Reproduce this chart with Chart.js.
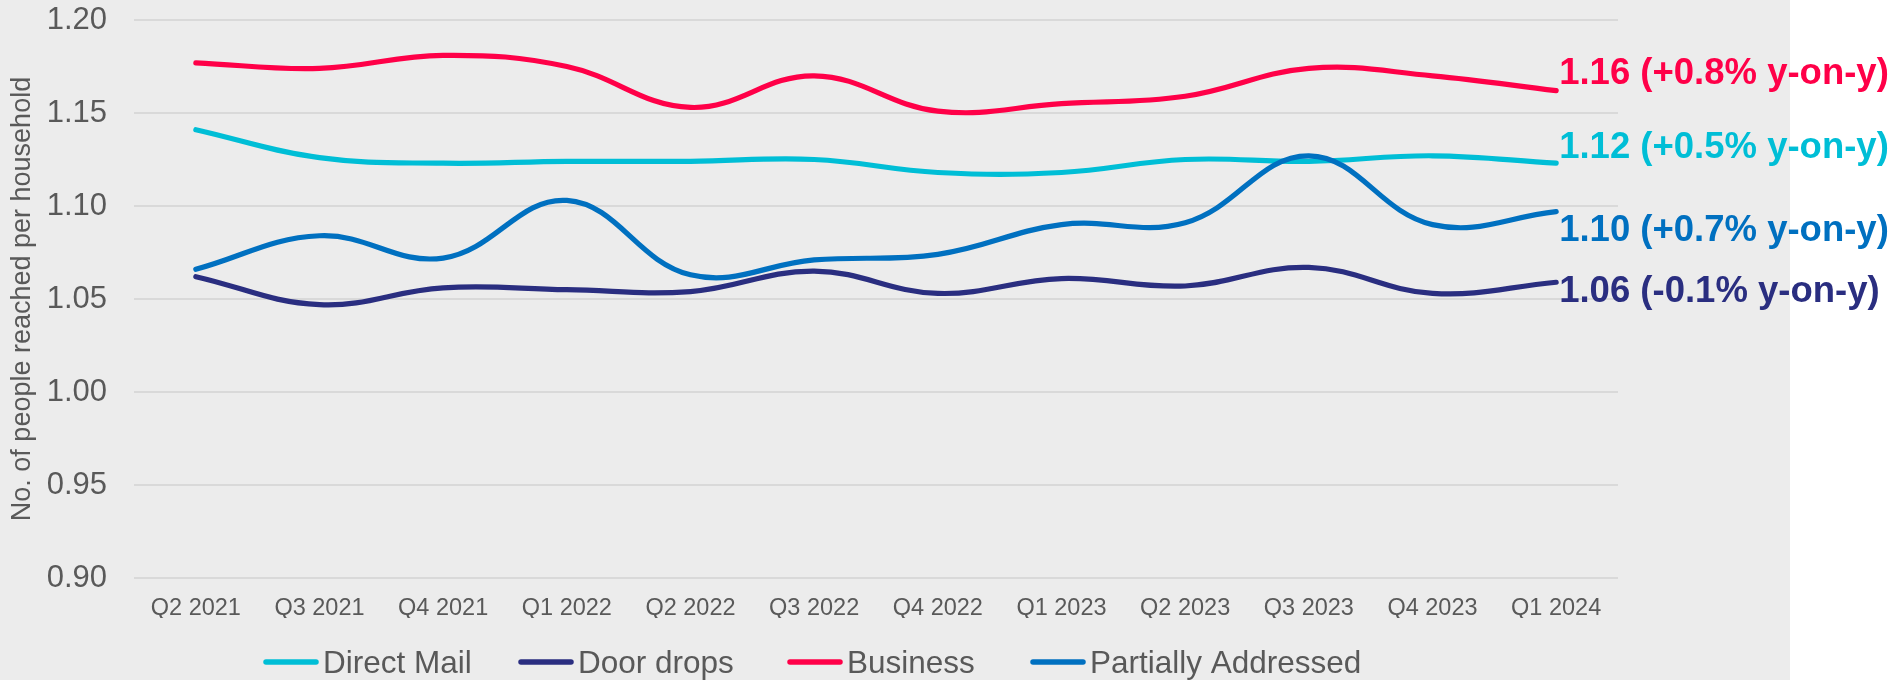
<!DOCTYPE html>
<html>
<head>
<meta charset="utf-8">
<title>People reached per household</title>
<script src="https://cdn.jsdelivr.net/npm/chart.js@4.4.1/dist/chart.umd.min.js"></script>
<style>
  html, body { margin: 0; padding: 0; background: #ffffff; }
  canvas { display: block; }
</style>
</head>
<body>
<canvas id="reachChart" width="1893" height="680"></canvas>
<script>
// Quarterly average number of people reached per household, by mail type
const quarters = ['Q2 2021', 'Q3 2021', 'Q4 2021', 'Q1 2022', 'Q2 2022', 'Q3 2022',
                  'Q4 2022', 'Q1 2023', 'Q2 2023', 'Q3 2023', 'Q4 2023', 'Q1 2024'];

const seriesNames = ['Direct Mail', 'Door drops', 'Business', 'Partially Addressed'];

const directMail = [1.141, 1.126, 1.123, 1.124, 1.124, 1.125, 1.118, 1.118, 1.125, 1.124, 1.127, 1.123];
const doorDrops = [1.062, 1.047, 1.056, 1.055, 1.054, 1.065, 1.053, 1.061, 1.057, 1.067, 1.053, 1.059];
const business = [1.177, 1.174, 1.181, 1.175, 1.153, 1.170, 1.151, 1.155, 1.159, 1.174, 1.170, 1.162];
const partiallyAddressed = [1.066, 1.084, 1.072, 1.103, 1.063, 1.071, 1.074, 1.090, 1.091, 1.127, 1.090, 1.097];

// year-on-year change shown next to the latest value
const yoyChange = ['+0.5%', '-0.1%', '+0.8%', '+0.7%'];

const yTicks = { min: 0.90, max: 1.20, step: 0.05 };

// styling
const colours = ['#00bed6', '#2a2e80', '#ff0048', '#0070c0'];
const drawOrder = [4, 3, 2, 1];           // partially addressed sits on top
const endLabelShift = [-5, 20, -7, 29];    // baseline offset from the last point
const legendX = [263, 518, 787, 1030];
const FONT = '"Liberation Sans", Arial, Helvetica, sans-serif';
const GREY_TEXT = '#595959';

// grey panel behind the chart
const panelBackground = {
  id: 'panelBackground',
  beforeDraw(chart) {
    const c = chart.ctx;
    c.save();
    c.fillStyle = '#ececec';
    c.fillRect(0, 0, 1790, chart.height);
    c.restore();
  }
};

// "1.16 (+0.8% y-on-y)" style labels at the end of each line
const endLabels = {
  id: 'endLabels',
  afterDatasetsDraw(chart) {
    const c = chart.ctx;
    c.save();
    c.font = 'bold 36.5px ' + FONT;
    c.textAlign = 'left';
    c.textBaseline = 'alphabetic';
    chart.data.datasets.forEach((ds, i) => {
      const pts = chart.getDatasetMeta(i).data;
      const last = pts[pts.length - 1];
      const value = ds.data[ds.data.length - 1];
      c.fillStyle = colours[i];
      c.fillText(value.toFixed(2) + ' (' + yoyChange[i] + ' y-on-y)', last.x + 3, last.y + endLabelShift[i]);
    });
    c.restore();
  }
};

// line-style legend along the bottom
const lineLegend = {
  id: 'lineLegend',
  afterDraw(chart) {
    const c = chart.ctx;
    const y = 662;
    c.save();
    c.font = '31.5px ' + FONT;
    c.textBaseline = 'alphabetic';
    c.lineCap = 'round';
    c.lineWidth = 5.5;
    seriesNames.forEach((name, i) => {
      const x = legendX[i];
      c.strokeStyle = colours[i];
      c.beginPath();
      c.moveTo(x + 3, y);
      c.lineTo(x + 53, y);
      c.stroke();
      c.fillStyle = GREY_TEXT;
      c.fillText(name, x + 60, y + 11);
    });
    c.restore();
  }
};

const seriesData = [directMail, doorDrops, business, partiallyAddressed];

const ctx = document.getElementById('reachChart').getContext('2d');
const reachChart = new Chart(ctx, {
  type: 'line',
  data: {
    labels: quarters,
    datasets: seriesNames.map((name, i) => ({
      label: name,
      data: seriesData[i],
      borderColor: colours[i],
      backgroundColor: colours[i],
      borderWidth: 5.2,
      borderCapStyle: 'round',
      borderJoinStyle: 'round',
      pointRadius: 0,
      tension: 0.4,
      fill: false,
      order: drawOrder[i]
    }))
  },
  options: {
    responsive: false,
    animation: false,
    devicePixelRatio: 1,
    layout: { padding: { left: 0, right: 275, top: 20, bottom: 62 } },
    plugins: {
      legend: { display: false },
      tooltip: { enabled: false }
    },
    scales: {
      x: {
        offset: true,
        grid: { display: false, drawTicks: false },
        border: { display: false },
        ticks: {
          color: GREY_TEXT,
          font: { family: FONT, size: 23.5 },
          padding: 16,
          maxRotation: 0,
          autoSkip: false
        },
        afterFit(scale) {
          scale.height = 40;
          scale.paddingLeft = 0;
          scale.paddingRight = 0;
        }
      },
      y: {
        min: yTicks.min,
        max: yTicks.max,
        grid: { color: '#d9d9d9', lineWidth: 2, drawTicks: false },
        border: { display: false },
        ticks: {
          stepSize: yTicks.step,
          color: GREY_TEXT,
          font: { family: FONT, size: 31 },
          padding: 27,
          callback: v => v.toFixed(2)
        },
        title: {
          display: true,
          text: 'No. of people reached per household',
          color: GREY_TEXT,
          font: { family: FONT, size: 27 },
          padding: { top: 6, bottom: 0 }
        },
        afterFit(scale) {
          // the top tick label may sit in the layout padding
          scale.width = 134;
          scale.paddingTop = 0;
          scale.paddingBottom = 0;
        }
      }
    }
  },
  plugins: [panelBackground, endLabels, lineLegend]
});
</script>
</body>
</html>
